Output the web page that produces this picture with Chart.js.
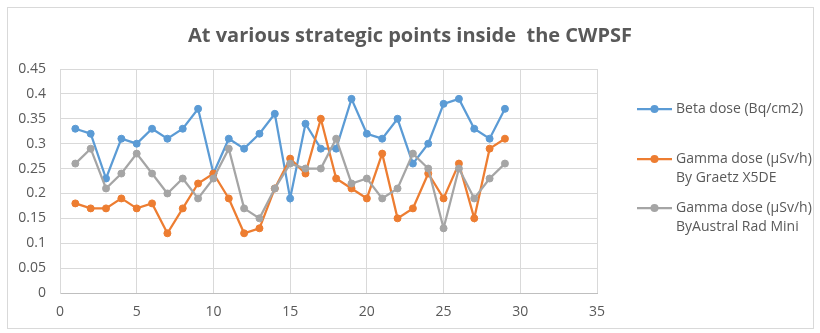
<!DOCTYPE html>
<html>
<head>
<meta charset="utf-8">
<script src="https://cdn.jsdelivr.net/npm/chart.js@4.4.0/dist/chart.umd.min.js"></script>
<style>
    html, body { margin: 0; padding: 0; background: #fff; }
    #wrap { width: 820px; height: 333px; }
</style>
</head>
<body>
<div id="wrap"><canvas id="myChart" width="820" height="333"></canvas></div>
<script>
// punkte 1..29
const points = [1, 2, 3, 4, 5, 6, 7, 8, 9, 10, 11, 12, 13, 14, 15, 16, 17, 18, 19, 20, 21, 22, 23, 24, 25, 26, 27, 28, 29];
const betaDose = [0.33, 0.32, 0.23, 0.31, 0.30, 0.33, 0.31, 0.33, 0.37, 0.24, 0.31, 0.29, 0.32, 0.36, 0.19, 0.34, 0.29, 0.29, 0.39, 0.32, 0.31, 0.35, 0.26, 0.30, 0.38, 0.39, 0.33, 0.31, 0.37];
const gammaGraetz = [0.18, 0.17, 0.17, 0.19, 0.17, 0.18, 0.12, 0.17, 0.22, 0.24, 0.19, 0.12, 0.13, 0.21, 0.27, 0.24, 0.35, 0.23, 0.21, 0.19, 0.28, 0.15, 0.17, 0.24, 0.19, 0.26, 0.15, 0.29, 0.31];
const gammaAustral = [0.26, 0.29, 0.21, 0.24, 0.28, 0.24, 0.20, 0.23, 0.19, 0.23, 0.29, 0.17, 0.15, 0.21, 0.26, 0.25, 0.25, 0.31, 0.22, 0.23, 0.19, 0.21, 0.28, 0.25, 0.13, 0.25, 0.19, 0.23, 0.26];
const seriesNames = [['Beta dose (Bq/cm2)'], ['Gamma dose (µSv/h)', 'By Graetz X5DE'], ['Gamma dose (µSv/h)', 'ByAustral Rad Mini']];
const seriesColors = ['#5B9BD5', '#ED7D31', '#A5A5A5'];
const chartTitle = 'At various strategic points inside  the CWPSF';

const FONT = "'Open Sans', sans-serif";
const TEXT_COLOR = '#595959';

function toXY(values) {
    return values.map((v, i) => ({ x: points[i], y: v }));
}

function makeDataset(idx, values) {
    return {
        label: seriesNames[idx].join(' '),
        data: toXY(values),
        borderColor: seriesColors[idx],
        backgroundColor: seriesColors[idx],
        pointBackgroundColor: seriesColors[idx],
        pointBorderColor: seriesColors[idx],
        borderWidth: 2.25,
        pointRadius: 3.5,
        pointBorderWidth: 1,
        tension: 0,
        order: 3 - idx
    };
}

// rahmen, titel und legende selbst zeichnen
const decoPlugin = {
    id: 'deco',
    beforeDraw(chart) {
        const ctx = chart.ctx;
        ctx.save();
        ctx.fillStyle = '#fff';
        ctx.fillRect(0, 0, chart.width, chart.height);
        ctx.strokeStyle = '#d9d9d9';
        ctx.lineWidth = 1;
        ctx.strokeRect(7.5, 7.5, 806, 321);
        ctx.restore();
    },
    afterDraw(chart) {
        const ctx = chart.ctx;
        ctx.save();
        ctx.fillStyle = TEXT_COLOR;
        ctx.font = "bold 20px " + FONT;
        ctx.textAlign = 'center';
        ctx.textBaseline = 'middle';
        ctx.fillText(chartTitle, 410, 36);

        const rows = [109, 159, 208];
        ctx.font = "14px " + FONT;
        ctx.textAlign = 'left';
        for (let i = 0; i < seriesNames.length; i++) {
            let y = rows[i];
            ctx.strokeStyle = seriesColors[i];
            ctx.lineWidth = 2.25;
            ctx.beginPath();
            ctx.moveTo(637, y);
            ctx.lineTo(672, y);
            ctx.stroke();
            ctx.fillStyle = seriesColors[i];
            ctx.beginPath();
            ctx.arc(654.5, y, 4, 0, Math.PI * 2);
            ctx.fill();
            ctx.fillStyle = TEXT_COLOR;
            for (let j = 0; j < seriesNames[i].length; j++) {
                ctx.fillText(seriesNames[i][j], 676, y + j * 19);
            }
        }
        ctx.restore();
    }
};

let myChart = new Chart(document.getElementById('myChart'), {
    type: 'line',
    data: {
        datasets: [
            makeDataset(0, betaDose),
            makeDataset(1, gammaGraetz),
            makeDataset(2, gammaAustral)
        ]
    },
    options: {
        responsive: false,
        animation: false,
        devicePixelRatio: 1,
        layout: { padding: { top: 69, right: 223, bottom: 0, left: 0 } },
        plugins: {
            legend: { display: false },
            title: { display: false },
            tooltip: { enabled: false }
        },
        scales: {
            x: {
                type: 'linear',
                min: 0,
                max: 35,
                afterFit(axis) { axis.height = 40; },
                ticks: { stepSize: 5, padding: 11, color: TEXT_COLOR, font: { family: FONT, size: 14 } },
                grid: { color: '#d9d9d9', drawTicks: false },
                border: { color: '#bfbfbf' }
            },
            y: {
                min: 0,
                max: 0.45,
                afterFit(axis) { axis.width = 60; },
                ticks: { stepSize: 0.05, padding: 14, color: TEXT_COLOR, font: { family: FONT, size: 14 },
                    callback: v => +v.toFixed(2) + '' },
                grid: { color: '#d9d9d9', drawTicks: false },
                border: { color: '#d9d9d9' }
            }
        }
    },
    plugins: [decoPlugin]
});
</script>
</body>
</html>
